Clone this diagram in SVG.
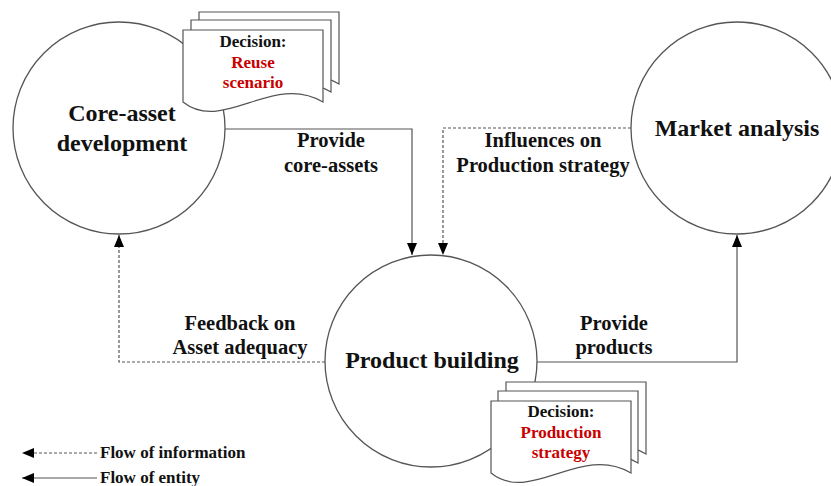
<svg xmlns="http://www.w3.org/2000/svg" width="831" height="486" viewBox="0 0 831 486">
<style>
.node{fill:#fff;stroke:#555;stroke-width:1.3}
.doc{fill:#fff;stroke:#555;stroke-width:1.2}
.conn{fill:none;stroke:#555;stroke-width:1.2}
.dash{stroke-dasharray:3,2}
text{font-family:"Liberation Serif","Times New Roman",serif;font-weight:bold;text-anchor:middle;fill:#111}
.big{font-size:24px}
.mid{font-size:20.5px}
.sm{font-size:17px}
.red{fill:#c80000}
.leg{text-anchor:start;font-size:17px}
</style>
<defs>
<marker id="ah" markerUnits="userSpaceOnUse" markerWidth="12" markerHeight="10" refX="12" refY="5" orient="auto">
<path d="M0,0 L12,5 L0,10 Z" fill="#000"/>
</marker>
<path id="docshape" d="M0,0 H140 V72 C90,42 40,104 0,72 Z"/>
</defs>
<g id="connectors">
<path class="conn" d="M225,129 H412 V255" marker-end="url(#ah)"/>
<path class="conn dash" d="M631,128 H443 V255" marker-end="url(#ah)"/>
<path class="conn dash" d="M325,362 H119 V235" marker-end="url(#ah)"/>
<path class="conn" d="M537,362 H737 V235" marker-end="url(#ah)"/>
<text class="mid" x="331" y="147">Provide</text>
<text class="mid" x="331" y="172">core-assets</text>
<text class="mid" x="543" y="147">Influences on</text>
<text class="mid" x="543" y="172">Production strategy</text>
<text class="mid" x="240" y="330">Feedback on</text>
<text class="mid" x="240" y="354">Asset adequacy</text>
<text class="mid" x="614" y="330">Provide</text>
<text class="mid" x="614" y="354">products</text>
</g>
<g id="core-asset">
<circle class="node" cx="119" cy="128" r="106"/>
<text class="big" x="122" y="121">Core-asset</text>
<text class="big" x="122" y="151">development</text>
</g>
<g id="decision-reuse">
<use href="#docshape" class="doc" x="199" y="12"/>
<use href="#docshape" class="doc" x="191" y="20"/>
<use href="#docshape" class="doc" x="183" y="30"/>
<text class="sm" x="253" y="47">Decision:</text>
<text class="sm red" x="253" y="68">Reuse</text>
<text class="sm red" x="253" y="88">scenario</text>
</g>
<g id="market">
<circle class="node" cx="737" cy="128" r="106"/>
<text class="big" x="737" y="136">Market analysis</text>
</g>
<g id="product">
<circle class="node" cx="431" cy="361" r="106"/>
<text class="big" x="432" y="368">Product building</text>
</g>
<g id="decision-production">
<use href="#docshape" class="doc" x="506" y="382"/>
<use href="#docshape" class="doc" x="498" y="391"/>
<use href="#docshape" class="doc" x="491" y="401"/>
<text class="sm" x="561" y="417">Decision:</text>
<text class="sm red" x="561" y="438">Production</text>
<text class="sm red" x="561" y="458">strategy</text>
</g>
<g id="legend">
<path class="conn dash" d="M97,453 H22" marker-end="url(#ah)"/>
<path class="conn" d="M97,478 H22" marker-end="url(#ah)"/>
<text class="leg" x="100" y="458">Flow of information</text>
<text class="leg" x="100" y="483">Flow of entity</text>
</g>
</svg>
